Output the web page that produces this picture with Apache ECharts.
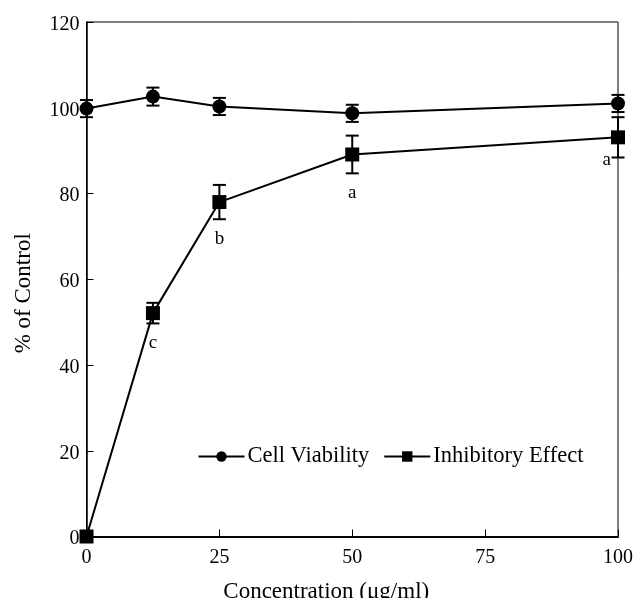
<!DOCTYPE html>
<html><head><meta charset="utf-8">
<script src="https://cdn.jsdelivr.net/npm/echarts@6/dist/echarts.min.js"></script>
<style>html,body{margin:0;padding:0;background:#fff}#c{width:636px;height:598px}</style>
</head><body><div id="c"></div>
<script>
const concentrations = [0, 12.5, 25, 50, 100];
const viability = [99.8, 102.6, 100.3, 98.7, 101.0];
const viabilityErr = [2.0, 2.1, 2.0, 2.0, 2.0];
const inhibitory = [0, 52.1, 78.0, 89.1, 93.1];
const inhibitoryErr = [0, 2.4, 4.0, 4.4, 4.7];
const letters = ['', 'c', 'b', 'a', 'a'];
const xTicks = [0, 25, 50, 75, 100];
const yTicks = [0, 20, 40, 60, 80, 100, 120];

const FONT = '"Liberation Serif","Times New Roman",serif';
const chart = echarts.init(document.getElementById('c'), null, {renderer: 'canvas'});

function errData(vals, errs) {
  return concentrations.map((x, i) => [x, vals[i], errs[i], letters[i]]);
}
function errRender(withLetters) {
  return function (params, api) {
    const x = api.value(0), y = api.value(1), e = api.value(2);
    const children = [];
    if (e > 0) {
      const top = api.coord([x, y + e]);
      const bot = api.coord([x, y - e]);
      const cw = 6.5;
      const st = {stroke: '#000', lineWidth: 2};
      children.push({type: 'line', shape: {x1: top[0], y1: top[1], x2: bot[0], y2: bot[1]}, style: st});
      children.push({type: 'line', shape: {x1: top[0] - cw, y1: top[1], x2: top[0] + cw, y2: top[1]}, style: st});
      children.push({type: 'line', shape: {x1: bot[0] - cw, y1: bot[1], x2: bot[0] + cw, y2: bot[1]}, style: st});
      if (withLetters) {
        const t = api.value(3);
        if (t) {
          let tx = bot[0], ty = bot[1] + 20, align = 'center';
          if (x >= 100) { tx = bot[0] - 7; ty = bot[1] + 3; align = 'right'; }
          children.push({type: 'text', style: {text: t, x: tx, y: ty, align: align, verticalAlign: 'middle', font: '19px ' + FONT, fill: '#000'}});
        }
      }
    }
    return {type: 'group', children: children};
  };
}

const option = {
  animation: false,
  backgroundColor: '#fff',
  grid: {left: 86.5, right: 18, top: 22, bottom: 61.5, show: true, borderColor: '#000', borderWidth: 1,
         containLabel: false, outerBoundsMode: 'none'},
  legend: {
    left: 192.5, top: 440, itemWidth: 46, itemHeight: 13, itemGap: 14,
    textStyle: {fontFamily: FONT, fontSize: 22.5, color: '#000', padding: [0, 0, 0, -2]},
    data: ['Cell Viability', 'Inhibitory Effect']
  },
  xAxis: {
    type: 'value', min: 0, max: 100, interval: 25,
    name: 'Concentration (μg/ml)', nameLocation: 'middle', nameGap: 44,
    nameTextStyle: {fontFamily: FONT, fontSize: 23, color: '#000', padding: [0, 52, 0, 0]},
    axisLine: {show: true, lineStyle: {color: '#000', width: 2}},
    axisTick: {show: true, inside: true, length: 7, lineStyle: {color: '#000', width: 1}},
    axisLabel: {fontFamily: FONT, fontSize: 20, color: '#000', margin: 11},
    splitLine: {show: false}
  },
  yAxis: {
    type: 'value', min: 0, max: 120, interval: 20,
    name: '% of Control', nameLocation: 'middle', nameGap: 51,
    nameTextStyle: {fontFamily: FONT, fontSize: 23, color: '#000', padding: [0, 28, 0, 0]},
    axisLine: {show: true, lineStyle: {color: '#000', width: 1.5}},
    axisTick: {show: true, inside: true, length: 7, lineStyle: {color: '#000', width: 1}},
    axisLabel: {fontFamily: FONT, fontSize: 20, color: '#000', margin: 7, verticalAlign: 'top', lineHeight: 5},
    splitLine: {show: false}
  },
  series: [
    {type: 'custom', name: 'vErr', renderItem: errRender(false), data: errData(viability, viabilityErr), z: 3, silent: true},
    {type: 'custom', name: 'iErr', renderItem: errRender(true), data: errData(inhibitory, inhibitoryErr), z: 3, silent: true},
    {
      type: 'line', name: 'Cell Viability',
      data: concentrations.map((x, i) => [x, viability[i]]),
      symbol: 'circle', symbolSize: 14, showAllSymbol: true,
      lineStyle: {color: '#000', width: 2}, itemStyle: {color: '#000'}, z: 4
    },
    {
      type: 'line', name: 'Inhibitory Effect',
      data: concentrations.map((x, i) => [x, inhibitory[i]]),
      symbol: 'rect', symbolSize: 14, showAllSymbol: true, clip: false,
      lineStyle: {color: '#000', width: 2}, itemStyle: {color: '#000'}, z: 4
    }
  ]
};
chart.setOption(option);
</script></body></html>
